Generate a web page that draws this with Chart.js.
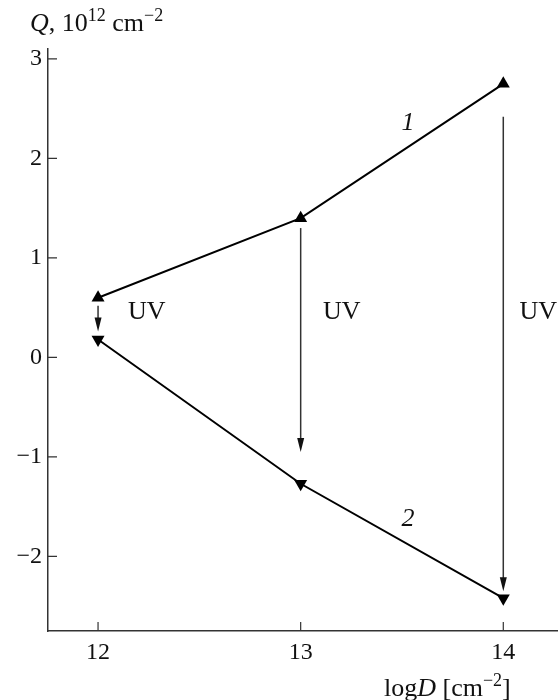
<!DOCTYPE html>
<html>
<head>
<meta charset="utf-8">
<script src="https://cdn.jsdelivr.net/npm/chart.js@4"></script>
<style>
	html, body { margin: 0; padding: 0; background: #fff; overflow: hidden; }
	#wrap { width: 558px; height: 700px; }
</style>
</head>
<body>
<div id="wrap"><canvas id="myChart"></canvas></div>
<script>
const xTicks = [12, 13, 14];
const yTicks = [-2, -1, 0, 1, 2, 3];

// log D positions and the two curves
const logD = [12, 13, 14];
const curve1 = [0.6, 1.4, 2.75];
const curve2 = [0.18, -1.27, -2.42];

// UV arrows: start and end of each vertical arrow
const uvX = [12, 13, 14];
const uvFrom = [0.52, 1.3, 2.42];
const uvTo = [0.26, -0.95, -2.35];

const FONT = '"Liberation Serif", "DejaVu Serif", serif';

function ticksAt(values) {
	return function (scale) {
		scale.ticks = values.map(v => ({ value: v }));
	};
}

const extras = {
	id: 'extras',
	afterDraw(chart) {
		const ctx = chart.ctx;
		const xs = chart.scales.x;
		const ys = chart.scales.y;
		const area = chart.chartArea;

		ctx.save();
		// inward tick marks
		ctx.strokeStyle = '#333';
		ctx.lineWidth = 1.2;
		ctx.beginPath();
		xTicks.forEach(v => {
			const px = xs.getPixelForValue(v);
			ctx.moveTo(px, area.bottom);
			ctx.lineTo(px, area.bottom - 9);
		});
		yTicks.forEach(v => {
			const py = ys.getPixelForValue(v);
			ctx.moveTo(area.left, py);
			ctx.lineTo(area.left + 9, py);
		});
		ctx.stroke();

		// UV arrows
		ctx.strokeStyle = '#333';
		ctx.fillStyle = '#111';
		ctx.lineWidth = 1.5;
		for (let i = 0; i < uvX.length; i++) {
			const px = xs.getPixelForValue(uvX[i]);
			const y0 = ys.getPixelForValue(uvFrom[i]);
			const y1 = ys.getPixelForValue(uvTo[i]);
			const head = 14;
			ctx.beginPath();
			ctx.moveTo(px, y0);
			ctx.lineTo(px, y1 - head + 2);
			ctx.stroke();
			ctx.beginPath();
			ctx.moveTo(px, y1);
			ctx.lineTo(px - 3.5, y1 - head);
			ctx.lineTo(px + 3.5, y1 - head);
			ctx.closePath();
			ctx.fill();
		}

		// text labels
		ctx.fillStyle = '#111';
		ctx.textBaseline = 'middle';
		ctx.textAlign = 'left';
		ctx.font = '26px ' + FONT;
		[[12.148, 0.45], [13.11, 0.45], [14.08, 0.45]].forEach(p => {
			ctx.fillText('UV', xs.getPixelForValue(p[0]), ys.getPixelForValue(p[1]));
		});
		ctx.font = 'italic 26px ' + FONT;
		ctx.textAlign = 'center';
		ctx.fillText('1', xs.getPixelForValue(13.53), ys.getPixelForValue(2.35));
		ctx.fillText('2', xs.getPixelForValue(13.53), ys.getPixelForValue(-1.63));

		// axis titles with superscripts
		ctx.textBaseline = 'alphabetic';
		ctx.textAlign = 'left';
		function run(parts, x, y) {
			parts.forEach(p => {
				ctx.font = p[1];
				ctx.fillText(p[0], x, y + (p[2] || 0));
				x += ctx.measureText(p[0]).width;
			});
		}
		const big = '26px ' + FONT;
		const bigI = 'italic 26px ' + FONT;
		const sup = '18px ' + FONT;
		run([
			['Q', bigI], [', 10', big], ['12', sup, -10], [' cm', big], ['\u22122', sup, -10]
		], 30, 31);
		run([
			['log', big], ['D', bigI], [' [cm', big], ['\u22122', sup, -10], [']', big]
		], 384, 696);
		ctx.restore();
	}
};

new Chart(document.getElementById('myChart'), {
	type: 'scatter',
	data: {
		datasets: [
			{
				data: logD.map((x, i) => ({ x: x, y: curve1[i] })),
				showLine: true,
				borderColor: '#000',
				borderWidth: 2,
				backgroundColor: '#000',
				pointStyle: 'triangle',
				pointRadius: 7.5,
				pointBorderWidth: 0,
				clip: false
			},
			{
				data: logD.map((x, i) => ({ x: x, y: curve2[i] })),
				showLine: true,
				borderColor: '#000',
				borderWidth: 2,
				backgroundColor: '#000',
				pointStyle: 'triangle',
				pointRotation: 180,
				pointRadius: 7.5,
				pointBorderWidth: 0,
				clip: false
			}
		]
	},
	options: {
		responsive: true,
		maintainAspectRatio: false,
		animation: false,
		layout: { autoPadding: false, padding: { top: 49, right: 0, left: 0, bottom: 0 } },
		plugins: { legend: { display: false }, tooltip: { enabled: false } },
		scales: {
			x: {
				type: 'linear',
				min: 11.753,
				max: 14.27,
				afterBuildTicks: ticksAt(xTicks),
				afterFit(scale) {
					scale.height = 69;
					scale.paddingLeft = 0;
					scale.paddingRight = 0;
				},
				grid: { display: false, drawTicks: false },
				border: { display: true, color: '#333', width: 1.5 },
				ticks: { color: '#111', font: { family: FONT, size: 24 }, padding: 7 }
			},
			y: {
				type: 'linear',
				min: -2.75,
				max: 3.1,
				afterBuildTicks: ticksAt(yTicks),
				afterFit(scale) {
					scale.width = 48;
					scale.paddingTop = 0;
					scale.paddingBottom = 0;
				},
				grid: { display: false, drawTicks: false },
				border: { display: true, color: '#333', width: 1.5 },
				ticks: {
					color: '#111',
					font: { family: FONT, size: 24 },
					padding: 6,
					callback: v => String(v).replace('-', '\u2212')
				}
			}
		}
	},
	plugins: [extras]
});
</script>
</body>
</html>
